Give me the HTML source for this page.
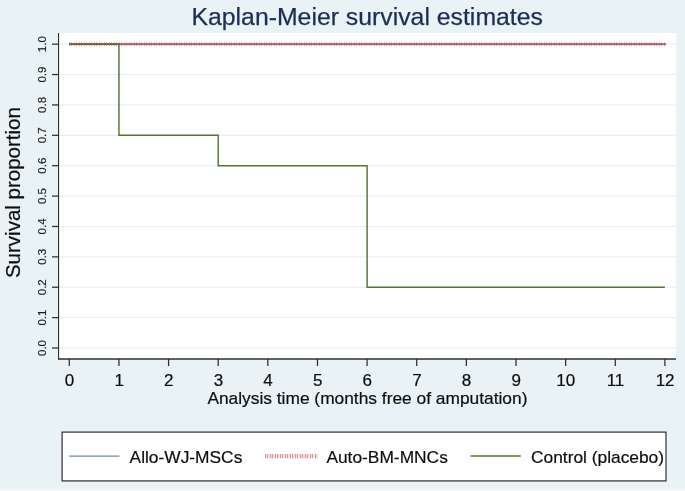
<!DOCTYPE html>
<html><head><meta charset="utf-8"><title>Kaplan-Meier survival estimates</title>
<style>
html,body{margin:0;padding:0;background:#e9f2f5;}
body{width:685px;height:491px;overflow:hidden;}
svg{display:block;font-family:"Liberation Sans",Arial,sans-serif;}
text{stroke-linejoin:round;}
</style></head><body>
<svg width="685" height="491" viewBox="0 0 685 491">
<defs><linearGradient id="bg" x1="0" y1="0" x2="0" y2="1"><stop offset="0" stop-color="#e9f2f5"/><stop offset="1" stop-color="#f6fafb"/></linearGradient></defs>
<rect x="0" y="0" width="685" height="491" fill="#e9f2f5"/>
<rect x="0" y="487" width="685" height="4" fill="url(#bg)"/>
<rect x="58" y="33" width="618" height="326" fill="#ffffff"/>

<g stroke="#e3ecf1" stroke-width="1">
<line x1="59" x2="676" y1="348.00" y2="348.00"/>
<line x1="59" x2="676" y1="317.62" y2="317.62"/>
<line x1="59" x2="676" y1="287.23" y2="287.23"/>
<line x1="59" x2="676" y1="256.85" y2="256.85"/>
<line x1="59" x2="676" y1="226.46" y2="226.46"/>
<line x1="59" x2="676" y1="196.07" y2="196.07"/>
<line x1="59" x2="676" y1="165.69" y2="165.69"/>
<line x1="59" x2="676" y1="135.31" y2="135.31"/>
<line x1="59" x2="676" y1="104.92" y2="104.92"/>
<line x1="59" x2="676" y1="74.53" y2="74.53"/>
<line x1="59" x2="676" y1="44.15" y2="44.15"/>
</g>
<line x1="69" x2="666" y1="44.15" y2="44.15" stroke="#1a476f" stroke-opacity="0.75" stroke-width="1.1"/>
<line x1="69" x2="666" y1="44.15" y2="44.15" stroke="#a03a44" stroke-opacity="0.65" stroke-width="1.3"/>
<line x1="69" x2="666" y1="44.15" y2="44.15" stroke="#d04455" stroke-opacity="0.15" stroke-width="2.8"/>
<line x1="69" x2="666" y1="44.15" y2="44.15" stroke="#d2404f" stroke-opacity="0.42" stroke-width="4" stroke-dasharray="1 1 1 2"/>
<path d="M69.30 44.15 L118.93 44.15 L118.93 135.31 L218.20 135.31 L218.20 165.69 L367.10 165.69 L367.10 287.23 L664.90 287.23" fill="none" stroke="#55752f" stroke-width="1.45"/>
<line x1="69" x2="119" y1="44.15" y2="44.15" stroke="#90353b" stroke-opacity="0.3" stroke-width="1.45"/>
<g stroke="#2c2e32">
<line x1="58.55" x2="58.55" y1="33" y2="359.6" stroke-width="1.1"/>
<line x1="58" x2="676" y1="358.9" y2="358.9" stroke-width="1.45"/>
<line x1="52" x2="58.5" y1="348.00" y2="348.00" stroke-width="1.25"/>
<line x1="52" x2="58.5" y1="317.62" y2="317.62" stroke-width="1.25"/>
<line x1="52" x2="58.5" y1="287.23" y2="287.23" stroke-width="1.25"/>
<line x1="52" x2="58.5" y1="256.85" y2="256.85" stroke-width="1.25"/>
<line x1="52" x2="58.5" y1="226.46" y2="226.46" stroke-width="1.25"/>
<line x1="52" x2="58.5" y1="196.07" y2="196.07" stroke-width="1.25"/>
<line x1="52" x2="58.5" y1="165.69" y2="165.69" stroke-width="1.25"/>
<line x1="52" x2="58.5" y1="135.31" y2="135.31" stroke-width="1.25"/>
<line x1="52" x2="58.5" y1="104.92" y2="104.92" stroke-width="1.25"/>
<line x1="52" x2="58.5" y1="74.53" y2="74.53" stroke-width="1.25"/>
<line x1="52" x2="58.5" y1="44.15" y2="44.15" stroke-width="1.25"/>
<line x1="69.30" x2="69.30" y1="358.7" y2="366" stroke-width="1.25"/>
<line x1="118.93" x2="118.93" y1="358.7" y2="366" stroke-width="1.25"/>
<line x1="168.57" x2="168.57" y1="358.7" y2="366" stroke-width="1.25"/>
<line x1="218.20" x2="218.20" y1="358.7" y2="366" stroke-width="1.25"/>
<line x1="267.83" x2="267.83" y1="358.7" y2="366" stroke-width="1.25"/>
<line x1="317.47" x2="317.47" y1="358.7" y2="366" stroke-width="1.25"/>
<line x1="367.10" x2="367.10" y1="358.7" y2="366" stroke-width="1.25"/>
<line x1="416.73" x2="416.73" y1="358.7" y2="366" stroke-width="1.25"/>
<line x1="466.37" x2="466.37" y1="358.7" y2="366" stroke-width="1.25"/>
<line x1="516.00" x2="516.00" y1="358.7" y2="366" stroke-width="1.25"/>
<line x1="565.63" x2="565.63" y1="358.7" y2="366" stroke-width="1.25"/>
<line x1="615.27" x2="615.27" y1="358.7" y2="366" stroke-width="1.25"/>
<line x1="664.90" x2="664.90" y1="358.7" y2="366" stroke-width="1.25"/>
</g>
<g font-size="11.5px" fill="#1a1a1a" stroke="#1a1a1a" stroke-width="0.15" text-anchor="middle">
<text transform="translate(45.9 348.00) rotate(-90)">0.0</text>
<text transform="translate(45.9 317.62) rotate(-90)">0.1</text>
<text transform="translate(45.9 287.23) rotate(-90)">0.2</text>
<text transform="translate(45.9 256.85) rotate(-90)">0.3</text>
<text transform="translate(45.9 226.46) rotate(-90)">0.4</text>
<text transform="translate(45.9 196.07) rotate(-90)">0.5</text>
<text transform="translate(45.9 165.69) rotate(-90)">0.6</text>
<text transform="translate(45.9 135.31) rotate(-90)">0.7</text>
<text transform="translate(45.9 104.92) rotate(-90)">0.8</text>
<text transform="translate(45.9 74.53) rotate(-90)">0.9</text>
<text transform="translate(45.9 44.15) rotate(-90)">1.0</text>
</g>
<rect x="62.1" y="432.1" width="603.9" height="48.8" fill="#ffffff" stroke="#2c2e32" stroke-width="1.2"/>
<g font-size="17.35px" fill="#0d0d0d" stroke="#0d0d0d" stroke-width="0.2">
<g text-anchor="middle">
<text x="69.50" y="385.5" font-size="17px">0</text>
<text x="119.13" y="385.5" font-size="17px">1</text>
<text x="168.77" y="385.5" font-size="17px">2</text>
<text x="218.40" y="385.5" font-size="17px">3</text>
<text x="268.03" y="385.5" font-size="17px">4</text>
<text x="317.67" y="385.5" font-size="17px">5</text>
<text x="367.30" y="385.5" font-size="17px">6</text>
<text x="416.93" y="385.5" font-size="17px">7</text>
<text x="466.57" y="385.5" font-size="17px">8</text>
<text x="516.20" y="385.5" font-size="17px">9</text>
<text x="565.83" y="385.5" font-size="17px">10</text>
<text x="615.47" y="385.5" font-size="17px">11</text>
<text x="665.10" y="385.5" font-size="17px">12</text>
<text x="367.4" y="403.5">Analysis time (months free of amputation)</text>
</g>
<text x="129.6" y="463.0">Allo-WJ-MSCs</text>
<text x="326.4" y="463.0">Auto-BM-MNCs</text>
<text x="531" y="463.0">Control (placebo)</text>
</g>
<text transform="translate(20.1 192.6) rotate(-90)" text-anchor="middle" font-size="20.5px" fill="#0d0d0d" stroke="#0d0d0d" stroke-width="0.2">Survival proportion</text>
<text x="367.2" y="24.9" text-anchor="middle" font-size="24.8px" fill="#1e2d53" stroke="#1e2d53" stroke-width="0.25">Kaplan-Meier survival estimates</text>
<line x1="69" x2="119.5" y1="456.1" y2="456.1" stroke="#1a476f" stroke-opacity="0.8" stroke-width="1"/>
<line x1="265" x2="317.4" y1="456.2" y2="456.2" stroke="#d04a5a" stroke-opacity="0.18" stroke-width="4.2"/>
<line x1="265" x2="317.4" y1="456.2" y2="456.2" stroke="#c0414d" stroke-opacity="0.48" stroke-width="4.2" stroke-dasharray="1 1 1 2"/>
<line x1="470.5" x2="520.8" y1="456.0" y2="456.0" stroke="#55752f" stroke-width="1.3"/>
</svg></body></html>
